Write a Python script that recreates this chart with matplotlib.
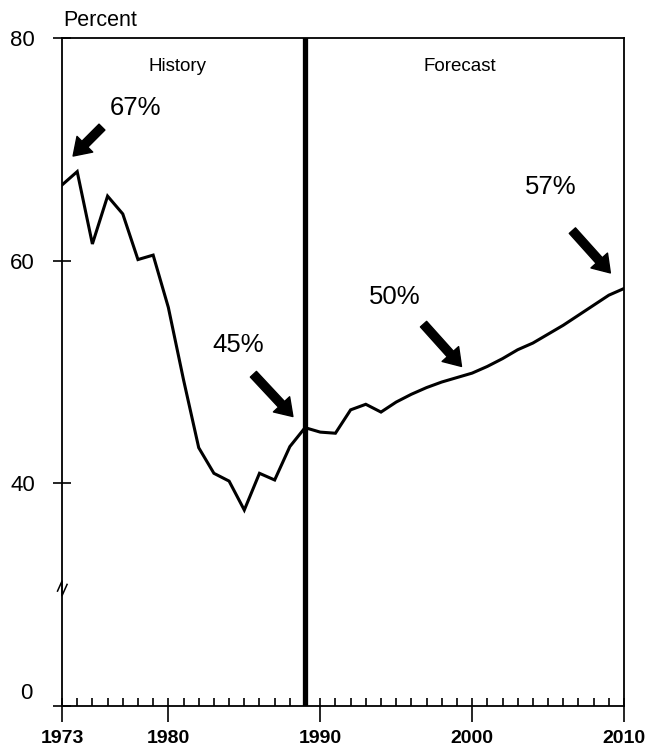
import matplotlib.pyplot as plt
import numpy as np

plt.rcParams['font.family'] = ['Liberation Sans', 'DejaVu Sans']

# 历史数据 (1973-1989)
hist_years = list(range(1973, 1990))
hist_pct = [66.8, 68.0, 61.5, 65.8, 64.2, 60.1, 60.5, 55.8, 49.3, 43.2,
            40.9, 40.2, 37.6, 40.9, 40.3, 43.3, 45.0]

# 预测数据 (1989-2010)
fcst_years = list(range(1989, 2011))
fcst_pct = [45.0, 44.6, 44.5, 46.6, 47.1, 46.4, 47.3, 48.0, 48.6, 49.1, 49.5,
            49.9, 50.5, 51.2, 52.0, 52.6, 53.4, 54.2, 55.1, 56.0, 56.9, 57.5]

# 标注: (文字, 对应年份, 对应数值)
callouts = ['67%', '45%', '50%', '57%']
callout_years = [1973, 1989, 2000, 2010]
callout_vals = [67, 45, 50, 57]

x_ticks = [1973, 1980, 1990, 2000, 2010]
y_ticks = [20, 40, 60, 80]           # 20 的位置画成 "0" (断轴)
y_labels = ['', '40', '60', '80']
split_year = 1989


def show_figure():
    fig = plt.figure(figsize=(6.48, 7.5), dpi=100)
    ax = fig.add_axes([0.0957, 0.0587, 0.8673, 0.8906])

    ax.plot(hist_years + fcst_years[1:], hist_pct + fcst_pct[1:], color='black', lw=2.2,
            solid_joinstyle='miter')
    ax.axvline(split_year, color='black', lw=3.8)

    ax.set_xlim(1973, 2010)
    ax.set_ylim(20, 80)

    # 坐标轴刻度
    ax.set_xticks(x_ticks)
    ax.set_xticks(range(1973, 2011), minor=True)
    ax.xaxis.remove_overlapping_locs = False
    ax.tick_params(axis='x', which='major', direction='out', length=11.5, width=1.2,
                   pad=6, labelsize=14)
    ax.tick_params(axis='x', which='minor', direction='in', length=6, width=1.2)
    ax.set_yticks(y_ticks)
    ax.set_yticklabels(y_labels)
    ax.tick_params(axis='y', direction='inout', length=13, width=1.2, pad=13, labelsize=16)
    for lab in ax.get_xticklabels():
        lab.set_fontweight('bold')
    for s in ax.spines.values():
        s.set_linewidth(1.3)

    # "0" 标签略高于横轴
    ax.annotate('0', xy=(0, 20), xycoords=('axes fraction', 'data'), xytext=(-21, 9),
                textcoords='offset points', ha='right', va='center', fontsize=16)
    # 断轴符号
    ax.plot([-0.008, 0.0, 0.0, 0.009], [0.172, 0.187, 0.165, 0.182], color='black', lw=1.1,
            transform=ax.transAxes, clip_on=False)

    ax.text(1980.6, 77.4, 'History', ha='center', va='center', fontsize=13.5)
    ax.text(1999.2, 77.4, 'Forecast', ha='center', va='center', fontsize=13.5)
    fig.text(100 / 648, 1 - 20 / 750, 'Percent', ha='center', va='center', fontsize=15.5)

    # 箭头标注 (文字位置相对于箭头尖的偏移, 单位: 数据)
    text_off = [(4.1, 4.3), (-3.6, 6.4), (-4.4, 6.2), (-3.9, 7.7)]
    tail_off = [(1.9, 2.6), (-2.6, 3.8), (-2.5, 3.8), (-2.5, 3.8)]
    tip_off = [(0.73, 2.4), (-0.8, 1.0), (-0.7, 0.5), (-0.9, 1.9)]
    for i in range(len(callouts)):
        tx = callout_years[i] + tip_off[i][0]
        ty = callout_vals[i] + tip_off[i][1]
        ax.annotate('', xy=(tx, ty),
                    xytext=(tx + tail_off[i][0], ty + tail_off[i][1]),
                    arrowprops=dict(facecolor='black', edgecolor='black', width=6,
                                    headwidth=16, headlength=12, shrink=0))
        ax.text(tx + text_off[i][0], ty + text_off[i][1], callouts[i],
                ha='center', va='center', fontsize=18.5)

    plt.savefig('out.png')


if __name__ == "__main__":
    show_figure()
